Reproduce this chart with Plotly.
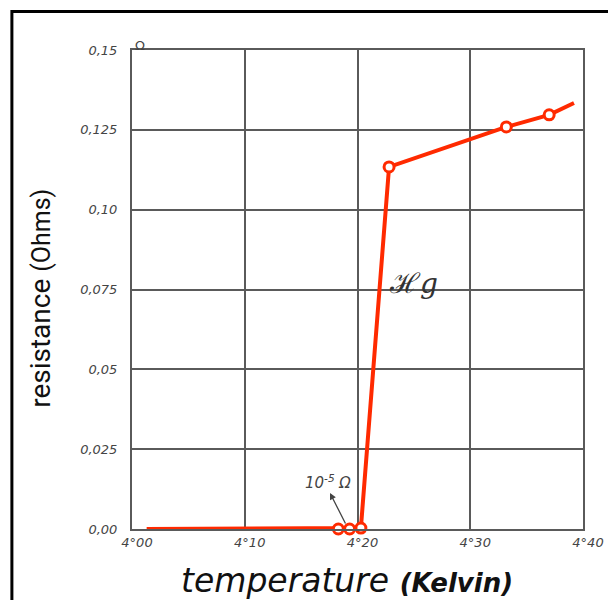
import plotly.graph_objects as go

# ---- data ----
T_line = [4.013, 4.183, 4.193, 4.203, 4.228, 4.332, 4.370, 4.392]
R_line = [0.0, 0.0, 0.0, 0.0003, 0.1134, 0.1259, 0.1297, 0.1334]

T_meas = [4.183, 4.193, 4.203, 4.228, 4.332, 4.370]
R_meas = [0.0, 0.0, 0.0003, 0.1134, 0.1259, 0.1297]

x_tickvals = [4.00, 4.10, 4.20, 4.30, 4.40]
x_ticktext = ["4°00", "4°10", "4°20", "4°30", "4°40"]
y_tickvals = [0.0, 0.025, 0.05, 0.075, 0.10, 0.125, 0.15]
y_ticktext = ["0,00", "0,025", "0,05", "0,075", "0,10", "0,125", "0,15"]

RED = "#ff2a00"
GRID = "#5a5a5a"

fig = go.Figure()
fig.add_trace(go.Scatter(x=T_line, y=R_line, mode="lines",
                         line=dict(color=RED, width=4), cliponaxis=False,
                         hoverinfo="skip", showlegend=False))
fig.add_trace(go.Scatter(x=T_meas, y=R_meas, mode="markers",
                         marker=dict(size=10, color="white",
                                     line=dict(color=RED, width=3)),
                         cliponaxis=False, showlegend=False))

tickfont = dict(family="DejaVu Sans", size=13, color="#444", style="italic")

fig.update_xaxes(range=[4.0, 4.4], tickvals=x_tickvals, ticktext=x_ticktext,
                 showgrid=True, gridcolor=GRID, gridwidth=2,
                 showline=True, linecolor=GRID, linewidth=2, mirror=True,
                 zeroline=False, ticks="", tickfont=tickfont,
                 ticklabelshift=5, ticklabelstandoff=0)
fig.update_yaxes(range=[0, 0.15], tickvals=y_tickvals, ticktext=y_ticktext,
                 showgrid=True, gridcolor=GRID, gridwidth=2,
                 showline=True, linecolor=GRID, linewidth=2, mirror=True,
                 zeroline=False, ticks="", tickfont=tickfont,
                 ticklabelstandoff=10)

OFF = 8  # page body margin
W, H = 608, 592
L, R, T = 124, 24, 42
pw, ph = W - L - R, 479
B = H - T - ph


def px(xp):
    return (xp - OFF - L) / pw


def py(yp):
    return (H - B - (yp - OFF)) / ph


annotations = [
    dict(text="Ω", x=4.0, y=0.15, xref="x", yref="y", showarrow=False,
         xanchor="left", yanchor="bottom", xshift=1, yshift=-5,
         font=dict(family="DejaVu Sans", size=13, color="#444")),
    dict(text="ℋ<i>g</i>", x=4.25, y=0.077, xref="x", yref="y", showarrow=False,
         xanchor="center", yanchor="middle",
         font=dict(family="DejaVu Serif", size=28, color="#333")),
    dict(text="10<sup>-5</sup> Ω", x=4.174, y=0.0147, xref="x", yref="y",
         showarrow=False, xanchor="center", yanchor="middle",
         font=dict(family="DejaVu Sans", size=15, color="#444", style="italic")),
    dict(text="", x=4.1756, y=0.0113, ax=4.190, ay=0.00125, xref="x", yref="y",
         axref="x", ayref="y", showarrow=True, arrowhead=2, arrowsize=1,
         arrowwidth=1.3, arrowcolor="#444"),
    dict(text="temperature <span style='font-size:26px'><b>(Kelvin)</b></span>",
         x=px(351), y=py(580), xref="paper", yref="paper", showarrow=False,
         xanchor="center", yanchor="middle",
         font=dict(family="DejaVu Sans", size=33, color="#111", style="italic")),
    dict(text="resistance <span style='font-size:25px'>(Ohms)</span>",
         x=px(38), y=py(298), xref="paper", yref="paper", showarrow=False,
         xanchor="center", yanchor="middle", textangle=-90,
         font=dict(family="Roboto", size=28, color="#111")),
]

fig.update_layout(
    width=W, height=H,
    margin=dict(l=L, r=R, t=T, b=B),
    paper_bgcolor="white", plot_bgcolor="white",
    annotations=annotations,
    shapes=[dict(type="rect", xref="paper", yref="paper",
                 x0=px(9.5), x1=px(640), y0=py(640), y1=py(11.5),
                 line=dict(color="black", width=3), layer="below")],
    showlegend=False,
)

fig.write_html("out.html")
